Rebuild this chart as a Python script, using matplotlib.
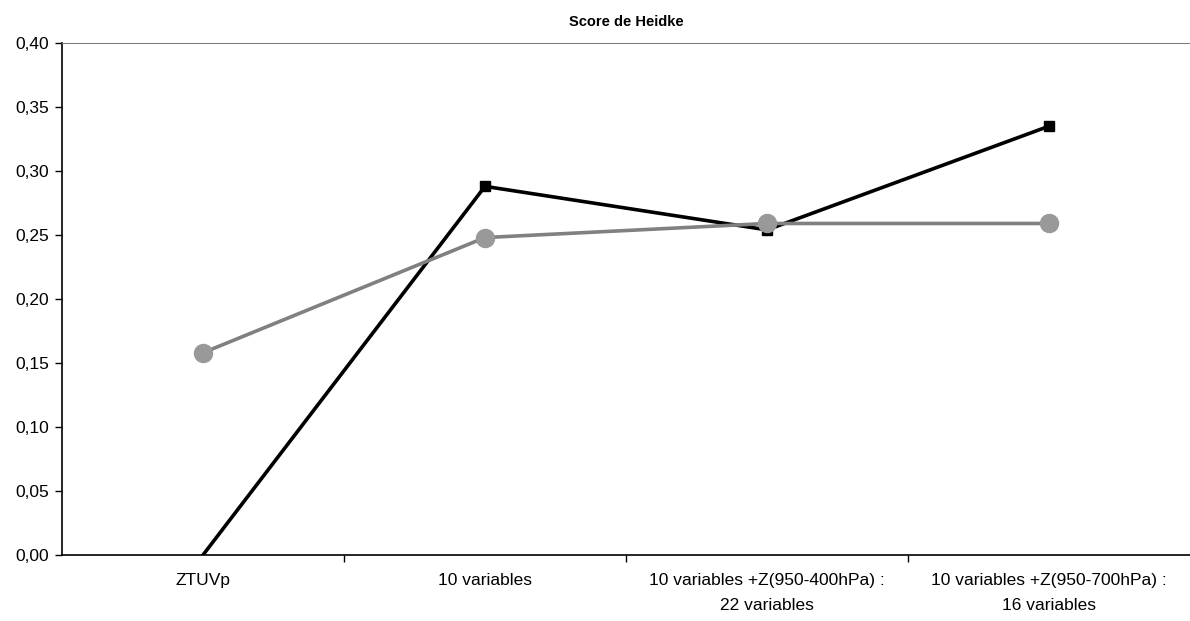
import numpy as np
import matplotlib
matplotlib.use("Agg")
from matplotlib import pyplot as plt

categories = ["ZTUVp", "10 variables",
              "10 variables +Z(950-400hPa) :\n22 variables",
              "10 variables +Z(950-700hPa) :\n16 variables"]
black_vals = [0.0, 0.288, 0.254, 0.335]
gray_vals = [0.158, 0.248, 0.259, 0.259]
yticks = [0.0, 0.05, 0.10, 0.15, 0.20, 0.25, 0.30, 0.35, 0.40]

plt.rcParams['font.family'] = ['Liberation Sans', 'DejaVu Sans']

fig = plt.figure(figsize=(11.9, 6.21), dpi=100)
ax = fig.add_axes([62/1190, 1-555/621, 1-62/1190, (555-43)/621])

x = np.arange(len(categories))
b = np.array(black_vals)
g = np.array(gray_vals)

ax.plot(x, b, color='black', lw=2.6, zorder=3)
show = b > 0
ax.plot(x[show], b[show], ls='none', marker='s', ms=7, color='black', zorder=4)
ax.plot(x, g, color='#808080', lw=2.6, marker='o', ms=13,
        mfc='#999999', mec='#999999', zorder=5)

ax.set_xlim(-0.5, 3.5)
ax.set_ylim(0, 0.40)
ax.set_yticks(yticks)
ax.set_yticklabels([f"{v:.2f}".replace('.', ',') for v in yticks], fontsize=12.5)
ax.set_xticks(x)
ax.set_xticklabels(categories, fontsize=12.5, linespacing=1.85)
ax.set_xticks([0.5, 1.5, 2.5], minor=True)
ax.tick_params(axis='x', which='major', length=0, pad=13)
ax.tick_params(axis='x', which='minor', length=5, direction='out', width=1)
ax.tick_params(axis='y', length=5, direction='out', width=1, pad=4)

ax.spines['right'].set_visible(False)
ax.spines['top'].set_color('#808080')
ax.spines['left'].set_linewidth(1.2)
ax.spines['bottom'].set_linewidth(1.2)

fig.text(0.5 + 31/1190, 1-22/621, "Score de Heidke", ha='center', va='center',
         fontsize=10.5, fontweight='bold')

fig.savefig("out.png", dpi=100)
